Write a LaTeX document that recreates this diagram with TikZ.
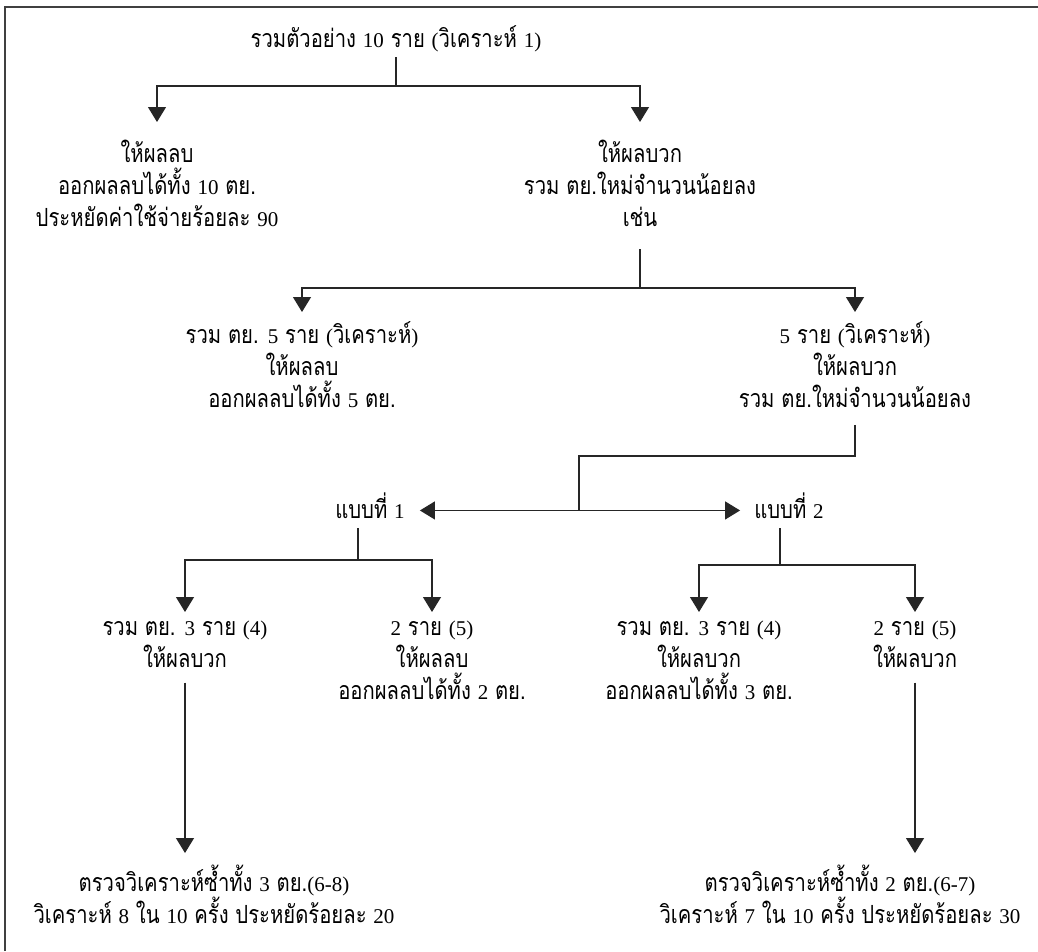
\documentclass[tikz,border=0pt]{standalone}
\usepackage{fontspec}
\newfontfamily\thai[Script=Thai,FakeStretch=0.81]{Loma}
\newfontfamily\latn{Liberation Serif}[Scale=0.84]
\newcommand\nm[1]{{\latn #1}}
\newcommand\thaifs{\thai\fontsize{25}{32}\selectfont}
\usetikzlibrary{arrows.meta}
\begin{document}
\begin{tikzpicture}[x=1pt,y=-1pt,
  lbl/.style={align=center,inner sep=0pt,anchor=north,font=\thaifs,
    execute at begin node=\strut,execute at end node=\strut},
  ln/.style={line width=1.2pt,draw=black!85},
  arr/.style={ln,-{Triangle[width=18pt,length=15pt]}},
  arrb/.style={ln,{Triangle[width=18pt,length=15pt]}-{Triangle[width=18pt,length=15pt]}}]
\useasboundingbox (0,0) rectangle (1038,951);
\fill[white] (0,0) rectangle (1038,951);
\draw[line width=1.5pt,black!75] (5,951) -- (5,7) -- (1038,7);

\node[lbl] (top) at (396,24.6) {รวมตัวอย่าง \nm{10} ราย \nm{(}วิเคราะห์ \nm{1)}};
\node[lbl] (neg) at (157,139.6) {ให้ผลลบ\\ออกผลลบได้ทั้ง \nm{10} ตย.\\ประหยัดค่าใช้จ่ายร้อยละ \nm{90}};
\node[lbl] (pos) at (640,139.6) {ให้ผลบวก\\รวม ตย.ใหม่จำนวนน้อยลง\\เช่น};
\node[lbl] (n5neg) at (302,321.6) {รวม ตย. \nm{5} ราย \nm{(}วิเคราะห์\nm{)}\\ให้ผลลบ\\ออกผลลบได้ทั้ง \nm{5} ตย.};
\node[lbl] (n5pos) at (855,321.6) {\nm{5} ราย \nm{(}วิเคราะห์\nm{)}\\ให้ผลบวก\\รวม ตย.ใหม่จำนวนน้อยลง};
\node[lbl] (b1) at (370,492.6) {แบบที่ \nm{1}};
\node[lbl] (b2) at (789,492.6) {แบบที่ \nm{2}};
\node[lbl] (L1) at (185,620.6) {รวม ตย. \nm{3} ราย \nm{(4)}\\ให้ผลบวก};
\node[lbl] (L2) at (432,620.6) {\nm{2} ราย \nm{(5)}\\ให้ผลลบ\\ออกผลลบได้ทั้ง \nm{2} ตย.};
\node[lbl] (R1) at (699,620.6) {รวม ตย. \nm{3} ราย \nm{(4)}\\ให้ผลบวก\\ออกผลลบได้ทั้ง \nm{3} ตย.};
\node[lbl] (R2) at (915,620.6) {\nm{2} ราย \nm{(5)}\\ให้ผลบวก};
\node[lbl] (F1) at (214,865) {ตรวจวิเคราะห์ซ้ำทั้ง \nm{3} ตย.\nm{(6-8)}\\วิเคราะห์ \nm{8} ใน \nm{10} ครั้ง ประหยัดร้อยละ \nm{20}};
\node[lbl] (F2) at (840,865) {ตรวจวิเคราะห์ซ้ำทั้ง \nm{2} ตย.\nm{(6-7)}\\วิเคราะห์ \nm{7} ใน \nm{10} ครั้ง ประหยัดร้อยละ \nm{30}};

\coordinate (h0) at (0,86);
\draw[arr] (top.south) -- (top.south |- h0) -| ([yshift=17.6pt]neg.north);
\draw[arr] (top.south |- h0) -| ([yshift=17.6pt]pos.north);

\coordinate (h1) at (0,288);
\draw[ln] ([yshift=-13.4pt]pos.south) -- (pos.south |- h1);
\draw[arr] (pos.south |- h1) -| ([yshift=9.6pt]n5neg.north);
\draw[arr] (pos.south |- h1) -| ([yshift=9.6pt]n5pos.north);

\coordinate (h2) at (579,456);
\draw[ln] ([yshift=-7.4pt]n5pos.south) |- (h2) -- (h2 |- b1.east);
\draw[arrb] ([xshift=15pt]b1.east) -- ([xshift=-14pt]b2.west);

\coordinate (b1v) at ([xshift=-12pt]b1.south);
\coordinate (h3) at (0,560);
\draw[arr] (b1v) -- (b1v |- h3) -| ([yshift=8.6pt]L1.north);
\draw[arr] (b1v |- h3) -| ([yshift=8.6pt]L2.north);

\coordinate (b2v) at ([xshift=-9pt]b2.south);
\coordinate (h4) at (0,565);
\draw[arr] (b2v) -- (b2v |- h4) -| ([yshift=8.6pt]R1.north);
\draw[arr] (b2v |- h4) -| ([yshift=8.6pt]R2.north);

\draw[arr] ([yshift=-5.4pt]L1.south) -- ([yshift=12pt]L1.south |- F1.north);
\draw[arr] ([yshift=-5.4pt]R2.south) -- ([yshift=12pt]R2.south |- F2.north);
\end{tikzpicture}
\end{document}
